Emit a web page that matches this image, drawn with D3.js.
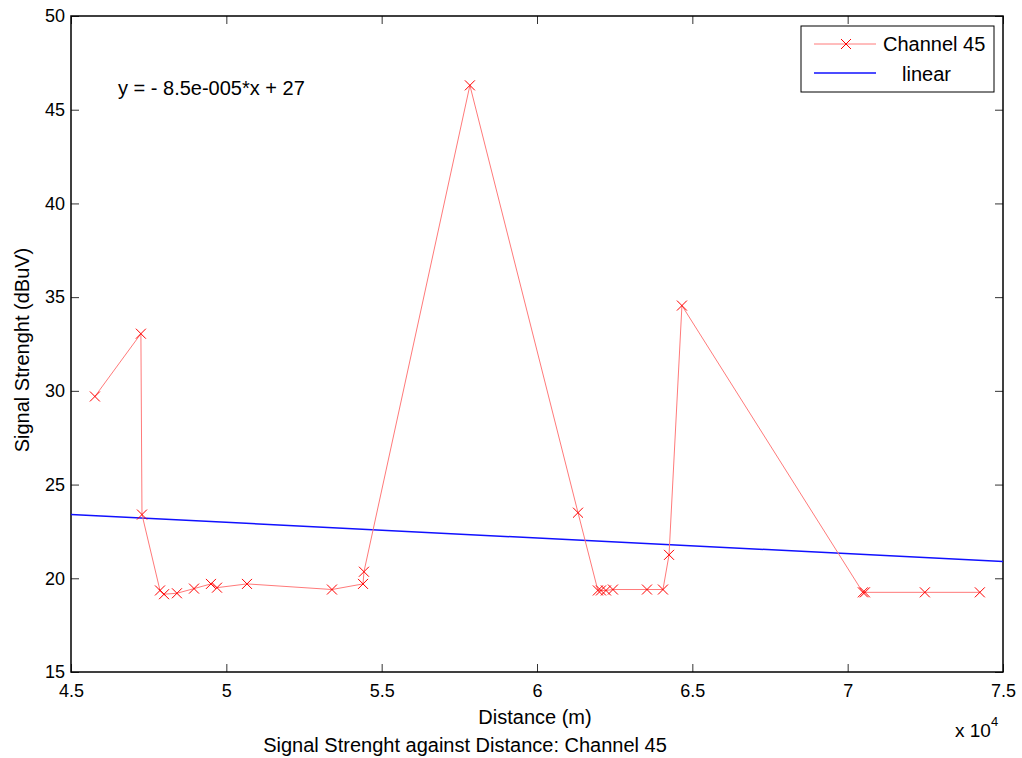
<!DOCTYPE html>
<html>
<head>
<meta charset="utf-8">
<script src="https://cdnjs.cloudflare.com/ajax/libs/d3/7.8.5/d3.min.js"></script>
<style>
  body { margin: 0; background: #fff; }
  text { font-family: "Liberation Sans", Arial, sans-serif; fill: #000; }
  .tick text { font-size: 18px; }
  .lbl { font-size: 20px; }
</style>
</head>
<body>
<div id="chart"></div>
<script>
// Measured points, Channel 45
const distance = [45770, 47250, 47285, 47865, 47995, 48410, 48960, 49505, 49700, 50665,
  53400, 54400, 54430, 57840, 61320, 61960, 62060, 62220, 62445, 63540, 64055, 64250,
  64665, 70490, 70555, 72485, 74255];
const strength = [29.7, 33.05, 23.4, 19.35, 19.15, 19.2, 19.45, 19.7, 19.5, 19.7,
  19.4, 19.7, 20.35, 46.3, 23.5, 19.35, 19.35, 19.35, 19.4, 19.4, 19.4, 21.25,
  34.55, 19.25, 19.25, 19.25, 19.25];

// Linear fit endpoints (as drawn)
const fitX = [45000, 75000];
const fitY = [23.4, 20.9];

const xTicks = [45000, 50000, 55000, 60000, 65000, 70000, 75000];
const yTicks = [15, 20, 25, 30, 35, 40, 45, 50];

const W = 1022, H = 758;
const plotLeft = 71, plotRight = 1003, plotTop = 16, plotBottom = 672;

const svg = d3.select("#chart").append("svg")
  .attr("width", W).attr("height", H);

const x = d3.scaleLinear().domain([45000, 75000]).range([plotLeft, plotRight]);
const y = d3.scaleLinear().domain([15, 50]).range([plotBottom, plotTop]);

// Axes with inward ticks (MATLAB style)
svg.append("g")
  .attr("transform", `translate(0,${plotBottom})`)
  .call(d3.axisBottom(x).tickValues(xTicks).tickSize(-8).tickPadding(12)
    .tickFormat(d => d3.format("")(d / 10000)))
  .call(g => g.select(".domain").remove());

svg.append("g")
  .attr("transform", `translate(${plotLeft},0)`)
  .call(d3.axisLeft(y).tickValues(yTicks).tickSize(-8).tickPadding(6))
  .call(g => g.select(".domain").remove());

// top and right ticks
svg.append("g")
  .attr("transform", `translate(0,${plotTop})`)
  .call(d3.axisTop(x).tickValues(xTicks).tickSize(-8).tickFormat(""))
  .call(g => g.select(".domain").remove());
svg.append("g")
  .attr("transform", `translate(${plotRight},0)`)
  .call(d3.axisRight(y).tickValues(yTicks).tickSize(-8).tickFormat(""))
  .call(g => g.select(".domain").remove());

svg.selectAll(".tick line").attr("stroke", "#333");

// box
svg.append("rect")
  .attr("x", plotLeft).attr("y", plotTop)
  .attr("width", plotRight - plotLeft).attr("height", plotBottom - plotTop)
  .attr("fill", "none").attr("stroke", "#000").attr("stroke-width", 1.5);

// fit line
svg.append("line")
  .attr("x1", x(fitX[0])).attr("y1", y(fitY[0]))
  .attr("x2", x(fitX[1])).attr("y2", y(fitY[1]))
  .attr("stroke", "#1010ff").attr("stroke-width", 1.5);

// data line
const pts = distance.map((d, i) => [d, strength[i]]);
svg.append("path")
  .datum(pts)
  .attr("fill", "none")
  .attr("stroke", "#ff7a7a")
  .attr("stroke-width", 1)
  .attr("d", d3.line().x(d => x(d[0])).y(d => y(d[1])));

function cross(g, cx, cy, s) {
  g.append("path")
    .attr("d", `M${cx - s},${cy - s}L${cx + s},${cy + s}M${cx - s},${cy + s}L${cx + s},${cy - s}`)
    .attr("stroke", "#ff0000").attr("stroke-width", 1).attr("fill", "none");
}
const marks = svg.append("g");
pts.forEach(d => cross(marks, x(d[0]), y(d[1]), 5));

// equation
svg.append("text").attr("class", "lbl")
  .attr("x", 118).attr("y", 95)
  .text("y = - 8.5e-005*x + 27");

// legend
const lg = svg.append("g");
lg.append("rect")
  .attr("x", 801).attr("y", 26).attr("width", 193).attr("height", 66)
  .attr("fill", "#fff").attr("stroke", "#000").attr("stroke-width", 1);
lg.append("line").attr("x1", 814).attr("x2", 876).attr("y1", 44).attr("y2", 44)
  .attr("stroke", "#ff7a7a").attr("stroke-width", 1);
cross(lg, 846, 44, 5);
lg.append("text").attr("class", "lbl").attr("x", 883).attr("y", 51).text("Channel 45");
lg.append("line").attr("x1", 814).attr("x2", 876).attr("y1", 73).attr("y2", 73)
  .attr("stroke", "#1010ff").attr("stroke-width", 1.5);
lg.append("text").attr("class", "lbl").attr("x", 902).attr("y", 81).text("linear");

// labels
svg.append("text").attr("class", "lbl")
  .attr("x", 535).attr("y", 724).attr("text-anchor", "middle")
  .text("Distance (m)");

svg.append("text").attr("class", "lbl")
  .attr("x", 465).attr("y", 752).attr("text-anchor", "middle")
  .text("Signal Strenght against Distance: Channel 45");

svg.append("text").attr("class", "lbl")
  .attr("transform", "translate(29,350) rotate(-90)")
  .attr("text-anchor", "middle")
  .text("Signal Strenght (dBuV)");

const ex = svg.append("text").attr("x", 955).attr("y", 737).style("font-size", "19px");
ex.append("tspan").text("x 10");
ex.append("tspan").attr("dy", -11).style("font-size", "13px").text("4");
</script>
</body>
</html>
